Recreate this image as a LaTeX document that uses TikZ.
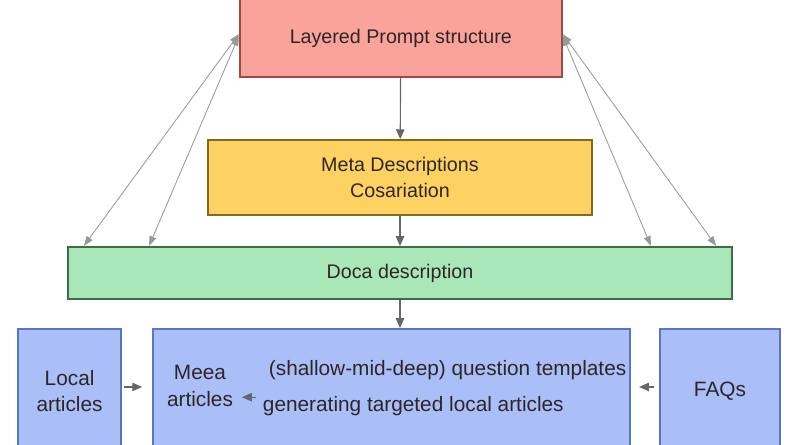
\documentclass[tikz,border=0pt]{standalone}
\usepackage{fontspec}
\setmainfont{Liberation Sans}
\usepackage{xcolor}
\usetikzlibrary{positioning, arrows.meta, calc}

\definecolor{redfill}{HTML}{F9A39B}
\definecolor{redline}{HTML}{9C4A46}
\definecolor{yelfill}{HTML}{FDD263}
\definecolor{yelline}{HTML}{86691F}
\definecolor{grnfill}{HTML}{A9E7B9}
\definecolor{grnline}{HTML}{3E6B48}
\definecolor{blufill}{HTML}{AABEF8}
\definecolor{bluline}{HTML}{5C74C6}
\definecolor{txt}{HTML}{2E2626}

\begin{document}
\begin{tikzpicture}[
    layer/.style={draw, rectangle, line width=1.4pt, align=center, text=txt, font=\fontsize{14}{18}\selectfont},
    lower/.style={layer, fill=blufill, draw=bluline, minimum height=3.1cm, anchor=north, font=\fontsize{14.8}{19}\selectfont},
    plain/.style={align=center, text=txt, font=\fontsize{14.8}{19}\selectfont},
    arrow/.style={-{Triangle[length=7pt,width=6pt]}, gray!80!black, line width=0.8pt},
    link/.style={{Triangle[length=7pt,width=5pt]}-{Triangle[length=7pt,width=5pt]}, gray!80, line width=0.6pt}
]
    \useasboundingbox (0,0) rectangle (20,-11.125);

    % --- Top layers ---
    \node[layer, fill=redfill, draw=redline, minimum width=8.05cm, minimum height=1.95cm] (prompt) at (10.02,-0.95) {Layered Prompt structure};
    \node[layer, fill=yelfill, draw=yelline, minimum width=9.6cm, minimum height=1.875cm] (meta) at (10,-4.44) {Meta Descriptions \\ Cosariation};
    \node[layer, fill=grnfill, draw=grnline, minimum width=16.6cm, minimum height=1.3cm] (data) at (10,-6.825) {Doca description};

    % --- Bottom row (cut by the page edge) ---
    \node[lower, minimum width=2.575cm] (local) at (1.74,-8.2) {Local \\ articles};
    \node[lower, minimum width=11.925cm] (mid) at (9.79,-8.2) {};
    \node[lower, minimum width=3.0cm] (faq) at (18,-8.2) {FAQs};

    \node[plain] (meea) at (5.0,-9.65) {Meea \\ articles};
    \node[plain, anchor=west] (tmpl) at (6.6,-9.25) {(shallow-mid-deep) question templates};
    \node[plain, anchor=west] (gen) at (6.45,-10.15) {generating targeted local articles};

    % --- Arrows ---
    \draw[arrow] (prompt) -- (meta);
    \draw[arrow] (meta) -- (data);
    \draw[arrow] (data) -- (data |- mid.north);

    \draw[link] ([yshift=-0.9cm]prompt.north west) -- ([xshift=0.42cm]data.north west);
    \draw[link] ([yshift=-0.95cm]prompt.north west) -- ([xshift=2.05cm]data.north west);
    \draw[link] ([yshift=-0.9cm]prompt.north east) -- ([xshift=-0.42cm]data.north east);
    \draw[link] ([yshift=-0.95cm]prompt.north east) -- ([xshift=-2.05cm]data.north east);

    \path ([yshift=0.22cm]gen.west) coordinate (genin);
    \draw[arrow, shorten <=0.05cm, shorten >=0.1cm] (genin) -- (genin -| meea.east);

    \path ([yshift=0.1cm]local.east) coordinate (locout);
    \draw[arrow, shorten <=0.05cm, shorten >=0.25cm] (locout) -- (locout -| mid.west);

    \path ([yshift=0.1cm]faq.west) coordinate (faqout);
    \draw[arrow, shorten <=0.12cm, shorten >=0.2cm] (faqout) -- (faqout -| mid.east);
\end{tikzpicture}
\end{document}
